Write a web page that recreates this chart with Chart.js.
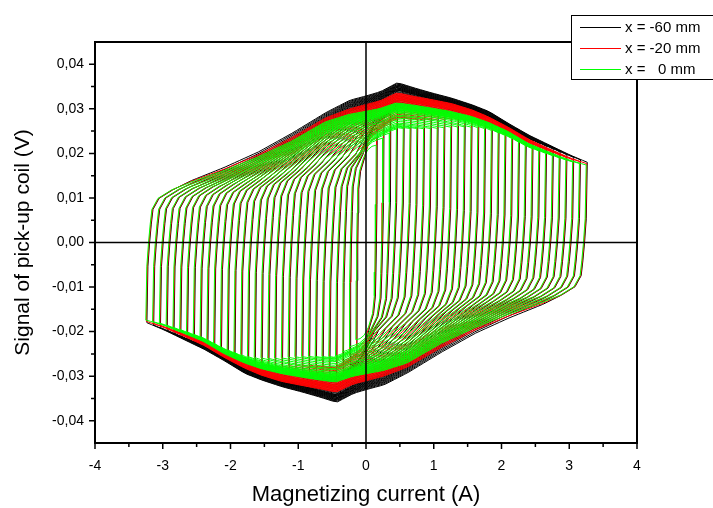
<!DOCTYPE html>
<html>
<head>
<meta charset="utf-8">
<script src="https://cdn.jsdelivr.net/npm/chart.js@4.4.0/dist/chart.umd.min.js"></script>
<style>
  html, body { margin: 0; padding: 0; background: #fff; }
  #wrap { width: 713px; height: 508px; }
</style>
</head>
<body>
<div id="wrap"><canvas id="chart" width="713" height="508"></canvas></div>
<script>
// axis ticks
const xTicks = [-4, -3, -2, -1, 0, 1, 2, 3, 4];
const yTicks = [-0.04, -0.03, -0.02, -0.01, 0, 0.01, 0.02, 0.03, 0.04];

const seriesNames = ['x = -60 mm', 'x = -20 mm', 'x =   0 mm'];
const seriesColors = ['#000000', '#ff0000', '#00ff00'];

// amplitudes of the loops (A), read from the vertical edges
const loopAmps = [3.25, 3.15, 3.05, 2.95, 2.85, 2.75, 2.65, 2.55, 2.45, 2.35, 2.25, 2.15, 2.05, 1.95, 1.85, 1.75,
                  1.65, 1.55, 1.45, 1.35, 1.25, 1.15, 1.05, 0.95, 0.85, 0.75, 0.65, 0.55, 0.45, 0.35, 0.25, 0.15];

// height where the rising edge turns into the upper branch (V)
const loopKneeY = [0.0118, 0.0119, 0.0120, 0.0121, 0.0122, 0.0123, 0.0125, 0.0126, 0.0128, 0.0130, 0.0132, 0.0134, 0.0137, 0.0140, 0.0143, 0.0147,
                   0.0151, 0.0155, 0.0160, 0.0165, 0.0169, 0.0174, 0.0178, 0.0182, 0.0186, 0.0190, 0.0194, 0.0197, 0.0199, 0.0200, 0.0198, 0.0190];
// how far the loop top stays below the outer envelope where it turns down (V)
const loopEndGap = [0, 0.0001, 0.0002, 0.0003, 0.0004, 0.0005, 0.0006, 0.0007, 0.0008, 0.0009, 0.0010, 0.0011, 0.0012, 0.0013, 0.0015, 0.0017,
                    0.0020, 0.0024, 0.0027, 0.0031, 0.0035, 0.0039, 0.0043, 0.0046, 0.0049, 0.0051, 0.0053, 0.0055, 0.0058, 0.0062, 0.0068, 0.0080];

// outer envelope of the upper branch, one per series
const envX     = [-2.95, -2.6, -2.1, -1.6, -1.1, -0.6, -0.25, 0, 0.2, 0.45, 0.7, 0.95, 1.25, 1.55, 1.8, 2.1, 2.4, 2.7, 3.0, 3.25];
const envBlack = [0.0115, 0.0141, 0.0171, 0.0205, 0.0247, 0.0293, 0.0320, 0.0330, 0.0339, 0.0359, 0.0347, 0.0336, 0.0324, 0.0309, 0.0294, 0.0266, 0.0240, 0.0218, 0.0196, 0.0180];
const envRed   = [0.0113, 0.0137, 0.0165, 0.0197, 0.0236, 0.0280, 0.0300, 0.0310, 0.0318, 0.0336, 0.0328, 0.0321, 0.0312, 0.0298, 0.0282, 0.0258, 0.0231, 0.0210, 0.0190, 0.0177];
const envGreen = [0.0110, 0.0132, 0.0159, 0.0190, 0.0226, 0.0270, 0.0287, 0.0294, 0.0300, 0.0313, 0.0308, 0.0302, 0.0294, 0.0283, 0.0270, 0.0249, 0.0222, 0.0203, 0.0185, 0.0174];

// shape of the rounded turn from the rising edge into the upper branch
const kneeDx = [0.015, 0.04, 0.065, 0.09, 0.18, 0.38];
const kneeFy = [-0.45, 0, 0.35, 0.63, 0.84, 1.0];

// small horizontal offset of each series
const seriesShift = [0.016, 0.008, 0];

const envs = [envBlack, envRed, envGreen];

function envAt(env, x) {
  const n = envX.length;
  if (x <= envX[0]) {
    return env[0] + (env[1] - env[0]) / (envX[1] - envX[0]) * (x - envX[0]);
  }
  if (x >= envX[n - 1]) return env[n - 1];
  for (let i = 1; i < n; i++) {
    if (x <= envX[i]) {
      const t = (x - envX[i - 1]) / (envX[i] - envX[i - 1]);
      return env[i - 1] + t * (env[i] - env[i - 1]);
    }
  }
  return env[n - 1];
}

// rising edge + upper branch; the other half is its point reflection
function halfLoop(env, A, ys, gEnd) {
  const sc = Math.min(1, A / 0.5);
  const yEnd = envAt(env, A) - gEnd;
  const pts = [{x: -A, y: -yEnd}];
  kneeDx.forEach((d, i) => pts.push({x: -A + d * sc, y: kneeFy[i] * ys}));
  const xs = -A + kneeDx[kneeDx.length - 1] * sc;
  const gStart = envAt(env, xs) - ys;
  const n = Math.max(2, Math.round((A - xs) / 0.07));
  for (let i = 1; i <= n; i++) {
    const t = i / n;
    const x = xs + (A - xs) * t;
    const w = Math.pow(1 - t, 3);
    const g = gStart * w + gEnd * (1 - w);
    pts.push({x: x, y: envAt(env, x) - g});
  }
  return pts;
}

function buildLoop(s, k) {
  const h = halfLoop(envs[s], loopAmps[k], loopKneeY[k], loopEndGap[k]);
  const all = h.concat(h.map(p => ({x: -p.x, y: -p.y})));
  return all.map(p => ({x: p.x + seriesShift[s], y: p.y}));
}

// black drawn first, green last (on top)
const datasets = [];
for (let s = 0; s < 3; s++) {
  for (let k = 0; k < loopAmps.length; k++) {
    datasets.push({
      label: k === 0 ? seriesNames[s] : '',
      data: buildLoop(s, k),
      borderColor: seriesColors[s],
      borderWidth: 1,
      pointRadius: 0,
      showLine: true,
      fill: false,
      tension: 0,
      order: 3 - s
    });
  }
}

const FONT = '"Liberation Sans", Arial, sans-serif';

const decor = {
  id: 'decor',
  afterDatasetsDraw(chart) {
    const c = chart.ctx;
    const xs = chart.scales.x, ys = chart.scales.y;
    const a = chart.chartArea;
    c.save();
    c.strokeStyle = '#000';
    // zero lines
    c.lineWidth = 1.5;
    c.beginPath();
    c.moveTo(a.left, ys.getPixelForValue(0));
    c.lineTo(a.right, ys.getPixelForValue(0));
    c.moveTo(xs.getPixelForValue(0), a.top);
    c.lineTo(xs.getPixelForValue(0), a.bottom);
    c.stroke();
    // frame
    c.lineWidth = 2;
    c.strokeRect(a.left, a.top, a.right - a.left, a.bottom - a.top);
    // tick marks
    c.lineWidth = 1.5;
    c.beginPath();
    yTicks.forEach((v, i) => {
      const py = ys.getPixelForValue(v);
      c.moveTo(a.left - 6, py); c.lineTo(a.left, py);
      if (i < yTicks.length - 1) {
        const pm = ys.getPixelForValue((v + yTicks[i + 1]) / 2);
        c.moveTo(a.left - 4, pm); c.lineTo(a.left, pm);
      }
    });
    xTicks.forEach((v, i) => {
      const px = xs.getPixelForValue(v);
      c.moveTo(px, a.bottom); c.lineTo(px, a.bottom + 6);
      if (i < xTicks.length - 1) {
        const pm = xs.getPixelForValue((v + xTicks[i + 1]) / 2);
        c.moveTo(pm, a.bottom); c.lineTo(pm, a.bottom + 4);
      }
    });
    c.stroke();
    // axis titles
    c.fillStyle = '#000';
    c.textAlign = 'center';
    c.textBaseline = 'middle';
    c.font = '22px ' + FONT;
    c.fillText('Magnetizing current (A)', (a.left + a.right) / 2, 495);
    c.save();
    c.font = '21px ' + FONT;
    c.translate(23, (a.top + a.bottom) / 2);
    c.rotate(-Math.PI / 2);
    c.fillText('Signal of pick-up coil (V)', 0, 0);
    c.restore();
    // legend box
    c.fillStyle = '#fff';
    c.fillRect(571, 15, 150, 65);
    c.lineWidth = 1;
    c.strokeRect(571.5, 15.5, 150, 64);
    c.font = '15px ' + FONT;
    c.textAlign = 'left';
    seriesNames.forEach((name, i) => {
      const ly = 27 + i * 21;
      c.strokeStyle = seriesColors[i];
      c.beginPath();
      c.moveTo(580, ly + 0.5); c.lineTo(621, ly + 0.5);
      c.stroke();
      c.fillStyle = '#000';
      c.fillText(name, 625, ly + 1);
    });
    c.restore();
  }
};

new Chart(document.getElementById('chart'), {
  type: 'scatter',
  data: { datasets: datasets },
  options: {
    responsive: false,
    animation: false,
    events: [],
    layout: { padding: { left: 0, top: 42, right: 76, bottom: 0 } },
    plugins: { legend: { display: false }, tooltip: { enabled: false } },
    scales: {
      x: {
        type: 'linear', min: -4, max: 4,
        afterBuildTicks: s => { s.ticks = xTicks.map(v => ({value: v})); },
        afterFit: s => { s.height = 65; },
        grid: { display: false, drawTicks: false },
        border: { display: false },
        ticks: { padding: 15, color: '#000', font: { family: FONT, size: 14 }, maxRotation: 0,
                 callback: v => String(v) }
      },
      y: {
        type: 'linear', min: -0.045, max: 0.045,
        afterBuildTicks: s => { s.ticks = yTicks.map(v => ({value: v})); },
        afterFit: s => { s.width = 95; },
        grid: { display: false, drawTicks: false },
        border: { display: false },
        ticks: { padding: 11, color: '#000', font: { family: FONT, size: 14 },
                 callback: v => v.toFixed(2).replace('.', ',') }
      }
    }
  },
  plugins: [decor]
});
</script>
</body>
</html>
